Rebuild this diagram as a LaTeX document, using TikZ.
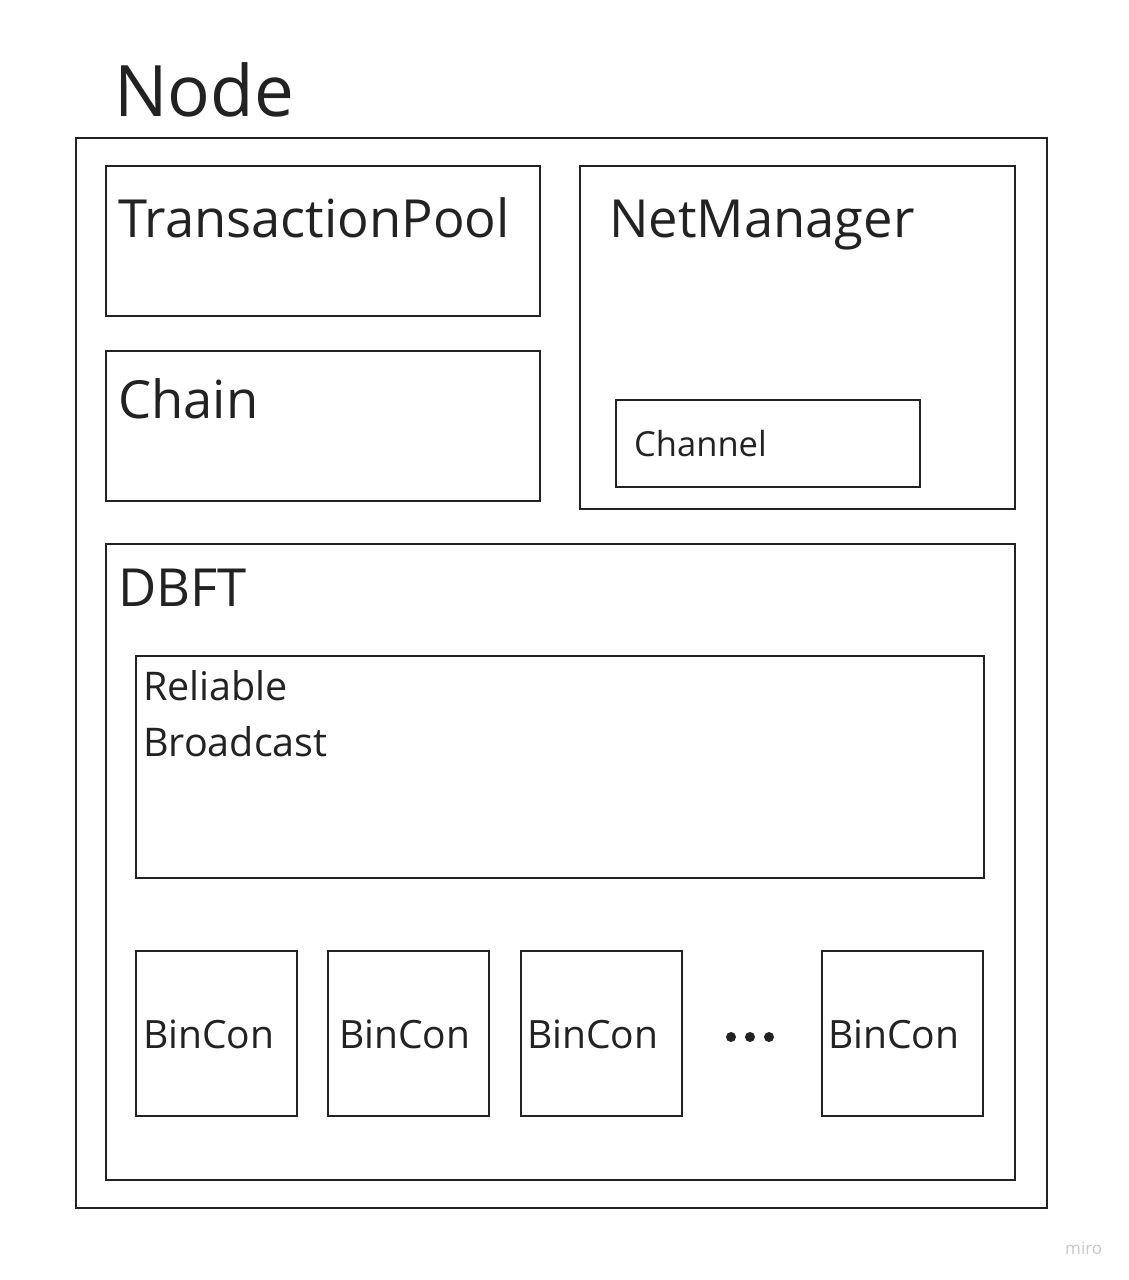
\documentclass[tikz,border=0pt]{standalone}
\usepackage{fontspec}
\setmainfont{Open Sans}
\definecolor{ink}{HTML}{222222}
\definecolor{wm}{HTML}{C8C8C8}
\tikzset{
  box/.style={draw=ink, line width=2pt},
  lbl/.style={anchor=base west, inner sep=0pt, text=ink},
}
\begin{document}
\begin{tikzpicture}[x=1pt,y=-1pt]
\useasboundingbox[fill=white] (0,0) rectangle (1128,1280);
% outer
\draw[box] (76,138) rectangle (1047,1208);
\node[lbl, font=\fontsize{71}{78}\selectfont] (tNode) at (114,116) {Node};
% TransactionPool
\draw[box] (106,166) rectangle (540,316);
\node[lbl, font=\fontsize{52.5}{60}\selectfont] (tTP) at (118,237) {TransactionPool};
% Chain
\draw[box] (106,351) rectangle (540,501);
\node[lbl, font=\fontsize{52.5}{60}\selectfont] (tCh) at (118,418) {Chain};
% NetManager
\draw[box] (580,166) rectangle (1015,509);
\node[lbl, font=\fontsize{52.5}{60}\selectfont] (tNM) at (609,237) {NetManager};
% Channel
\draw[box] (616,400) rectangle (920,487);
\node[lbl, font=\fontsize{34.5}{40}\selectfont] (tChan) at (634,456) {Channel};
% DBFT
\draw[box] (106,544) rectangle (1015,1180);
\node[lbl, font=\fontsize{52.5}{60}\selectfont] (tDB) at (118,606) {DBFT};
% Reliable Broadcast
\draw[box] (136,656) rectangle (984,878);
\node[lbl, font=\fontsize{39.5}{46}\selectfont] (tRB1) at (143,700) {Reliable};
\node[lbl, font=\fontsize{39.5}{46}\selectfont] (tRB2) at (143,756) {Broadcast};
% BinCon boxes
\draw[box] (136,951) rectangle (297,1116);
\draw[box] (328,951) rectangle (489,1116);
\draw[box] (521,951) rectangle (682,1116);
\draw[box] (822,951) rectangle (983,1116);
\node[lbl, font=\fontsize{39}{46}\selectfont] (b1) at (143,1048) {BinCon};
\node[lbl, font=\fontsize{39}{46}\selectfont] (b2) at (339,1048) {BinCon};
\node[lbl, font=\fontsize{39}{46}\selectfont] (b3) at (527,1048) {BinCon};
\node[lbl, font=\fontsize{39}{46}\selectfont] (b4) at (828,1048) {BinCon};
% dots
\fill[ink] (731,1037) circle (5);
\fill[ink] (750,1037) circle (5);
\fill[ink] (769,1037) circle (5);
% watermark
\node[lbl, text=wm, font=\fontsize{17}{20}\selectfont] (wmark) at (1065,1254) {miro};
\end{tikzpicture}
\end{document}
